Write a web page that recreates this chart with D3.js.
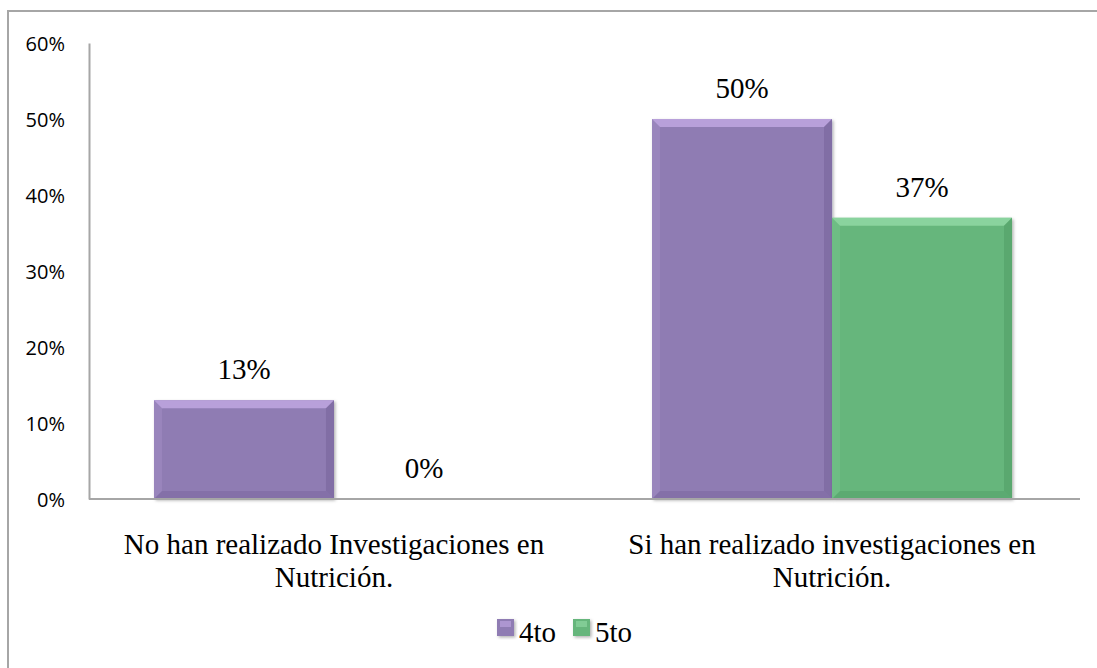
<!DOCTYPE html>
<html>
<head>
<meta charset="utf-8">
<script src="https://cdn.jsdelivr.net/npm/d3@7"></script>
<style>
  body { margin: 0; background: #fff; }
  svg { display: block; }
</style>
</head>
<body>
<svg width="1097" height="668"></svg>
<script>
var categories = ["No han realizado Investigaciones en|Nutrición.", "Si han realizado investigaciones en|Nutrición."];
var seriesNames = ["4to", "5to"];
var values4to = [0.13, 0.50];
var values5to = [0.00, 0.37];
var yTicks = [0, 0.1, 0.2, 0.3, 0.4, 0.5, 0.6];

var colors = { "4to": "#8f7bb3", "5to": "#66b67c" };
var lightC = { "4to": "#c2a9e3", "5to": "#93dba6" };
var darkC  = { "4to": "#705d94", "5to": "#4b9660" };

var serif = "Liberation Serif, Times New Roman, serif";

var svg = d3.select("svg"),
    width = +svg.attr("width"),
    height = +svg.attr("height");

// frame
svg.append("rect")
    .attr("x", 8).attr("y", 11)
    .attr("width", width + 20).attr("height", height + 20)
    .attr("fill", "none").attr("stroke", "#a6a6a6").attr("stroke-width", 2);

var defs = svg.append("defs");
var f = defs.append("filter").attr("id", "shadow")
    .attr("x", "-10%").attr("y", "-10%").attr("width", "130%").attr("height", "130%");
f.append("feDropShadow").attr("dx", 1.5).attr("dy", 1.5).attr("stdDeviation", 1.5)
    .attr("flood-color", "#000").attr("flood-opacity", 0.3);

var x0 = d3.scaleBand().domain(categories).range([88, 1078]).paddingInner(0.2771).paddingOuter(0.1325);
var x1 = d3.scaleBand().domain(seriesNames).range([0, x0.bandwidth()]);
var y = d3.scaleLinear().domain([0, 0.6]).range([499, 43]);

// y axis
var yAxis = svg.append("g").attr("transform", "translate(89,0)")
    .call(d3.axisLeft(y).tickValues(yTicks).tickSize(0).tickPadding(24).tickFormat(d3.format(".0%")));
yAxis.select(".domain").attr("stroke", "#a6a6a6").attr("stroke-width", 2);
yAxis.selectAll("text")
    .style("font-family", "Open Sans, Liberation Sans, sans-serif")
    .style("font-size", "20px").attr("fill", "#000").attr("dy", "0.36em");

var data = [];
categories.forEach(function(c, i) {
  data.push({ cat: c, s: "4to", v: values4to[i] });
  data.push({ cat: c, s: "5to", v: values5to[i] });
});

var bars = svg.append("g").selectAll("g.bar")
    .data(data).enter().append("g").attr("class", "bar");

bars.each(function(d) {
  var g = d3.select(this);
  var bx = x0(d.cat) + x1(d.s), bw = x1.bandwidth();
  var by = y(d.v), bh = y(0) - y(d.v);
  if (bh > 0) {
    var b = Math.min(8, bh / 2);
    g.append("rect").attr("x", bx).attr("y", by).attr("width", bw).attr("height", bh)
        .attr("fill", colors[d.s]).attr("filter", "url(#shadow)");
    // top bevel
    g.append("path").attr("d", "M" + bx + "," + by + "L" + (bx + bw) + "," + by +
        "L" + (bx + bw - b) + "," + (by + b) + "L" + (bx + b) + "," + (by + b) + "Z")
        .attr("fill", lightC[d.s]).attr("opacity", 0.8);
    // right bevel
    g.append("path").attr("d", "M" + (bx + bw) + "," + by + "L" + (bx + bw) + "," + (by + bh) +
        "L" + (bx + bw - b) + "," + (by + bh - b) + "L" + (bx + bw - b) + "," + (by + b) + "Z")
        .attr("fill", darkC[d.s]).attr("opacity", 0.45);
    // left bevel
    g.append("path").attr("d", "M" + bx + "," + by + "L" + (bx + b) + "," + (by + b) +
        "L" + (bx + b) + "," + (by + bh - b) + "L" + bx + "," + (by + bh) + "Z")
        .attr("fill", lightC[d.s]).attr("opacity", 0.2);
    // bottom bevel
    g.append("path").attr("d", "M" + bx + "," + (by + bh) + "L" + (bx + b) + "," + (by + bh - b) +
        "L" + (bx + bw - b) + "," + (by + bh - b) + "L" + (bx + bw) + "," + (by + bh) + "Z")
        .attr("fill", darkC[d.s]).attr("opacity", 0.35);
  }
  g.append("text")
      .attr("x", bx + bw / 2).attr("y", by - 21)
      .attr("text-anchor", "middle")
      .style("font-family", serif)
      .style("font-size", "29px").attr("fill", "#000")
      .text(d3.format(".0%")(d.v));
});

// baseline
svg.append("line").attr("x1", 89).attr("x2", 1080).attr("y1", y(0)).attr("y2", y(0))
    .attr("stroke", "#a6a6a6").attr("stroke-width", 2);

// category labels
categories.forEach(function(c) {
  var lines = c.split("|");
  var t = svg.append("text")
      .attr("text-anchor", "middle")
      .style("font-family", serif)
      .style("font-size", "29px").attr("fill", "#000");
  lines.forEach(function(l, i) {
    t.append("tspan").attr("x", x0(c) + x0.bandwidth() / 2).attr("y", 554 + i * 33).text(l);
  });
});

// legend
var legendX = [497, 573];
seriesNames.forEach(function(s, i) {
  var lg = svg.append("g");
  lg.append("rect").attr("x", legendX[i]).attr("y", 619).attr("width", 17).attr("height", 17)
      .attr("fill", colors[s]).attr("filter", "url(#shadow)");
  lg.append("rect").attr("x", legendX[i] + 3).attr("y", 621).attr("width", 11).attr("height", 6)
      .attr("fill", lightC[s]).attr("opacity", 0.6);
  lg.append("text").attr("x", legendX[i] + 22).attr("y", 642)
      .style("font-family", serif)
      .style("font-size", "29px").attr("fill", "#000").text(s);
});
</script>
</body>
</html>
